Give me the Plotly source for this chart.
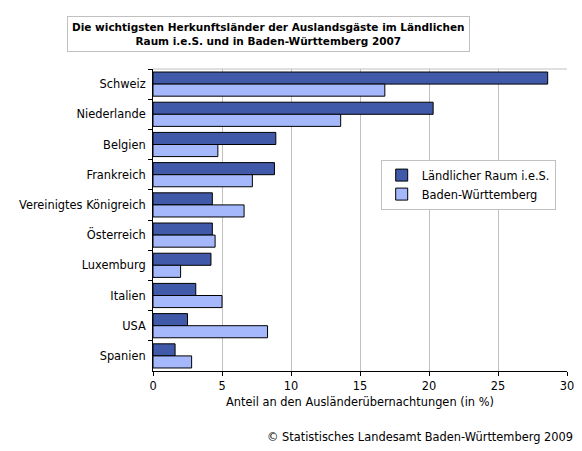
import plotly.graph_objects as go

laender = ["Schweiz", "Niederlande", "Belgien", "Frankreich", "Vereinigtes Königreich",
           "Österreich", "Luxemburg", "Italien", "USA", "Spanien"]
laendlicher_raum = [28.6, 20.3, 8.9, 8.8, 4.3, 4.3, 4.2, 3.1, 2.5, 1.6]
baden_wuerttemberg = [16.8, 13.6, 4.7, 7.2, 6.6, 4.5, 2.0, 5.0, 8.3, 2.8]

font = "DejaVu Sans, Verdana, sans-serif"

fig = go.Figure()
fig.add_trace(go.Bar(y=laender, x=laendlicher_raum, orientation="h",
                     name="Ländlicher Raum i.e.S.",
                     marker=dict(color="#4059A9", line=dict(color="black", width=1))))
fig.add_trace(go.Bar(y=laender, x=baden_wuerttemberg, orientation="h",
                     name="Baden-Württemberg",
                     marker=dict(color="#A6B8FC", line=dict(color="black", width=1))))

# page body has an 8px margin, so the figure is a bit smaller and shifted
fig.update_layout(
    width=574, height=443,
    margin=dict(l=145, r=15, t=61, b=80),
    plot_bgcolor="white", paper_bgcolor="white",
    font=dict(family=font, size=11.4, color="black"),
    barmode="group", bargap=0.2, bargroupgap=0,
    showlegend=True,
    legend=dict(x=0.55, y=0.70, xanchor="left", yanchor="top",
                bgcolor="white", bordercolor="#C0C0C0", borderwidth=1,
                font=dict(size=11.4), itemwidth=30, tracegroupgap=0),
    xaxis=dict(range=[0, 30], dtick=5, showgrid=True, gridcolor="#C0C0C0",
               gridwidth=1, zeroline=False, showline=True, linecolor="black",
               ticks="outside", ticklen=4, tickcolor="black", automargin=False,
               title=dict(text="Anteil an den Ausländerübernachtungen (in %)",
                          standoff=6, font=dict(size=11.4))),
    yaxis=dict(autorange="reversed", showgrid=False, showline=True,
               linecolor="black", ticks="outside", ticklen=4, tickcolor="black",
               tickson="boundaries", ticklabelstandoff=4, automargin=False),
    shapes=[dict(type="line", xref="paper", yref="paper", x0=0, x1=1, y0=1, y1=1,
                 line=dict(color="#C0C0C0", width=1), layer="below")],
    annotations=[
        dict(text="<b>Die wichtigsten Herkunftsländer der Auslandsgäste im Ländlichen<br>"
                  "Raum i.e.S. und in Baden-Württemberg 2007</b>",
             xref="paper", yref="paper", x=0.28, y=1.116, xanchor="center",
             yanchor="middle", showarrow=False, align="center",
             font=dict(size=10.5), bordercolor="#C0C0C0", borderwidth=1,
             borderpad=4, bgcolor="white"),
        dict(text="© Statistisches Landesamt Baden-Württemberg 2009",
             xref="paper", yref="paper", x=1.02, y=-0.219, xanchor="right",
             yanchor="middle", showarrow=False, font=dict(size=11.4)),
    ],
)

fig.write_html("out.html")
